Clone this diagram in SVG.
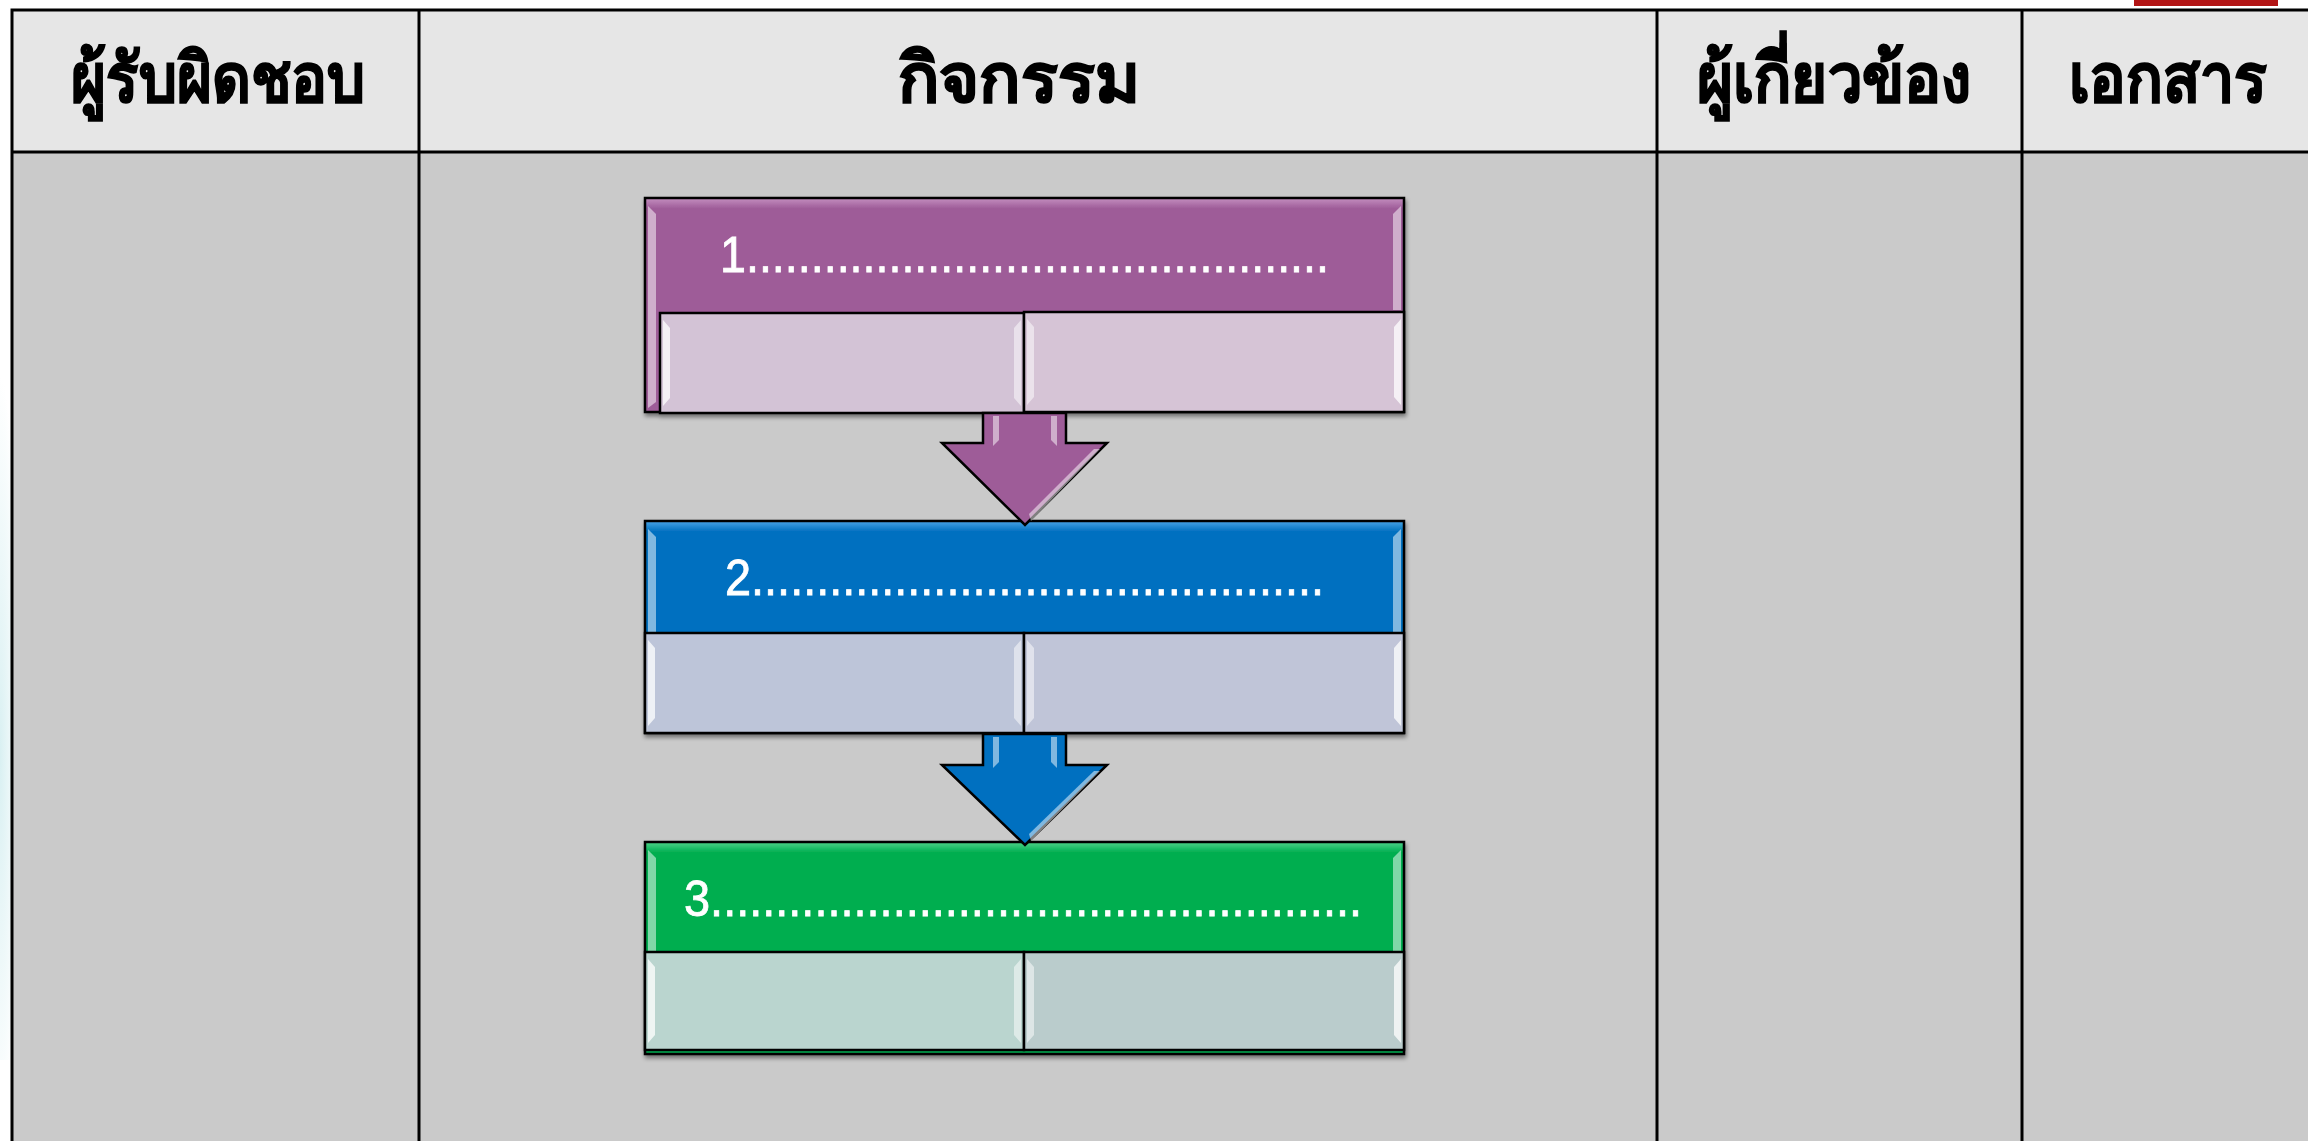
<svg xmlns="http://www.w3.org/2000/svg" width="2308" height="1141" viewBox="0 0 2308 1141">
  <style>
    .grid { stroke: #000; stroke-width: 3; fill: none; }
    .head { font-family: "Noto Sans", "DejaVu Sans", sans-serif; font-weight: bold; font-size: 68px; fill: #000; stroke: #000; stroke-width: 1.4; text-anchor: middle; }
    .step { font-family: "Liberation Sans", "DejaVu Sans", sans-serif; font-size: 50px; fill: #fff; stroke: #fff; stroke-width: 0.8; }
    .bx { stroke: #000; stroke-width: 2.5; }
    .hl { fill: #fff; opacity: 0.5; }
    .hl2 { fill: #fff; opacity: 0.75; }
    .arw { stroke: #000; stroke-width: 2.5; stroke-linejoin: miter; }
  </style>
  <defs>
    <radialGradient id="haze" cx="0" cy="0.6" r="0.5">
      <stop offset="0" stop-color="#d9f0f2"/>
      <stop offset="1" stop-color="#ffffff"/>
    </radialGradient>
    <linearGradient id="gP" x1="0" y1="0" x2="0" y2="1">
      <stop offset="0" stop-color="#c48fc0"/>
      <stop offset="0.05" stop-color="#9e5c98"/>
      <stop offset="1" stop-color="#9e5c98"/>
    </linearGradient>
    <linearGradient id="gB" x1="0" y1="0" x2="0" y2="1">
      <stop offset="0" stop-color="#4aa4e6"/>
      <stop offset="0.05" stop-color="#0070c0"/>
      <stop offset="1" stop-color="#0070c0"/>
    </linearGradient>
    <linearGradient id="gG" x1="0" y1="0" x2="0" y2="1">
      <stop offset="0" stop-color="#4fd38a"/>
      <stop offset="0.05" stop-color="#00ae50"/>
      <stop offset="1" stop-color="#00ae50"/>
    </linearGradient>
    <filter id="sh" x="-5%" y="-5%" width="110%" height="115%">
      <feDropShadow dx="1" dy="3" stdDeviation="2" flood-color="#000" flood-opacity="0.45"/>
    </filter>
  </defs>

  <!-- page background with faint haze on the left -->
  <rect x="0" y="0" width="2308" height="1141" fill="#fff"/>
  <rect x="0" y="300" width="40" height="760" fill="url(#haze)"/>
  <rect x="2134" y="0" width="144" height="6" fill="#b21515"/>

  <!-- table -->
  <g id="table">
    <rect x="12" y="10" width="2310" height="142" fill="#e6e6e6"/>
    <rect x="12" y="152" width="2310" height="1000" fill="#cacaca"/>
    <path class="grid" d="M12 1145 V10 H2310 M12 152 H2310 M419 10 V1145 M1657 10 V1145 M2022 10 V1145"/>
    <text class="head" x="218" y="102" textLength="294" lengthAdjust="spacingAndGlyphs">ผู้รับผิดชอบ</text>
    <text class="head" x="1019" y="102" textLength="243" lengthAdjust="spacingAndGlyphs">กิจกรรม</text>
    <text class="head" x="1834" y="102" textLength="274" lengthAdjust="spacingAndGlyphs">ผู้เกี่ยวข้อง</text>
    <text class="head" x="2168" y="102" textLength="199" lengthAdjust="spacingAndGlyphs">เอกสาร</text>
  </g>

  <!-- step 1 -->
  <g id="step1" filter="url(#sh)">
    <rect class="bx" x="645" y="198" width="759" height="214" fill="url(#gP)"/>
    <polygon class="hl" points="648,206 656,214 656,402 648,408"/>
    <polygon class="hl" points="1401,206 1401,310 1393,310 1393,214"/>
    <text class="step" x="720" y="272" textLength="609" lengthAdjust="spacingAndGlyphs">1.............................................</text>
    <rect class="bx" x="660" y="313" width="364" height="100" fill="#d3c3d6"/>
    <polygon class="hl2" points="663,320 670,328 670,398 663,406"/>
    <polygon class="hl" points="1021,320 1021,406 1014,398 1014,328"/>
    <rect class="bx" x="1024" y="312" width="380" height="100" fill="#d6c4d6"/>
    <polygon class="hl" points="1027,319 1034,327 1034,397 1027,405"/>
    <polygon class="hl2" points="1401,319 1401,405 1394,397 1394,327"/>
  </g>

  <!-- step 2 -->
  <g id="step2" filter="url(#sh)">
    <rect class="bx" x="645" y="521" width="759" height="212" fill="url(#gB)"/>
    <polygon class="hl" points="648,529 656,537 656,632 648,632"/>
    <polygon class="hl" points="1401,529 1401,632 1393,632 1393,537"/>
    <text class="step" x="725" y="595" textLength="599" lengthAdjust="spacingAndGlyphs">2............................................</text>
    <rect class="bx" x="645" y="633" width="379" height="100" fill="#bdc5d9"/>
    <polygon class="hl2" points="648,640 655,648 655,718 648,726"/>
    <polygon class="hl" points="1021,640 1021,726 1014,718 1014,648"/>
    <rect class="bx" x="1024" y="633" width="380" height="100" fill="#c0c5d8"/>
    <polygon class="hl" points="1027,640 1034,648 1034,718 1027,726"/>
    <polygon class="hl2" points="1401,640 1401,726 1394,718 1394,648"/>
  </g>

  <!-- step 3 -->
  <g id="step3" filter="url(#sh)">
    <rect class="bx" x="645" y="842" width="759" height="212" fill="url(#gG)"/>
    <polygon class="hl" points="648,850 656,858 656,951 648,951"/>
    <polygon class="hl" points="1401,850 1401,951 1393,951 1393,858"/>
    <text class="step" x="684" y="916" textLength="678" lengthAdjust="spacingAndGlyphs">3..................................................</text>
    <rect class="bx" x="645" y="952" width="379" height="98" fill="#bad5cf"/>
    <polygon class="hl2" points="648,959 655,967 655,1035 648,1043"/>
    <polygon class="hl" points="1021,959 1021,1043 1014,1035 1014,967"/>
    <rect class="bx" x="1024" y="952" width="380" height="98" fill="#bacccc"/>
    <polygon class="hl" points="1027,959 1034,967 1034,1035 1027,1043"/>
    <polygon class="hl2" points="1401,959 1401,1043 1394,1035 1394,967"/>
  </g>

  <!-- connectors -->
  <g id="connectors">
    <g id="arrow1">
      <polygon class="arw" fill="#9e5c98" points="983,413 1066,413 1066,443 1107,443 1025,525 942,443 983,443"/>
      <polygon class="hl" points="993,416 999,416 999,440 993,446"/>
      <polygon class="hl" points="1051,416 1057,416 1057,446 1051,440"/>
      <polygon class="hl" points="1094,449 1100,449 1031,521 1029,514"/>
    </g>
    <g id="arrow2">
      <polygon class="arw" fill="#0070c0" points="983,734 1066,734 1066,765 1107,765 1025,845 942,765 983,765"/>
      <polygon class="hl" points="993,737 999,737 999,762 993,768"/>
      <polygon class="hl" points="1051,737 1057,737 1057,768 1051,762"/>
      <polygon class="hl" points="1094,771 1100,771 1031,841 1029,834"/>
    </g>
  </g>
</svg>
